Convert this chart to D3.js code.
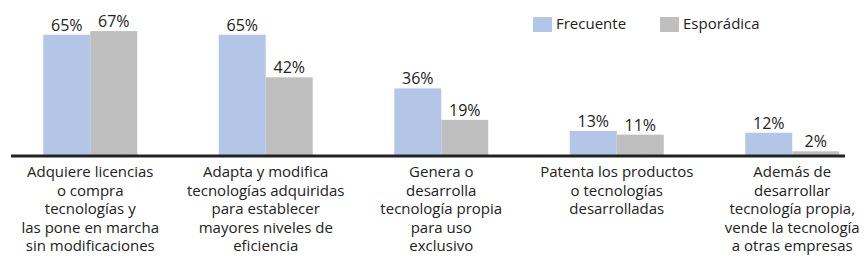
<!DOCTYPE html>
<html>
<head>
    <title>Tecnología</title>
    <style>
        body { margin: 0; background: #fff; }
        text { font-family: "Open Sans", "Noto Sans", sans-serif; fill: #222; }
    </style>
    <script src="https://cdn.jsdelivr.net/npm/d3@7/dist/d3.min.js"></script>
</head>
<body>
    <div id="chart"></div>
    <script>
        var categories = [
            ["Adquiere licencias", "o compra", "tecnologías y", "las pone en marcha", "sin modificaciones"],
            ["Adapta y modifica", "tecnologías adquiridas", "para establecer", "mayores niveles de", "eficiencia"],
            ["Genera o", "desarrolla", "tecnología propia", "para uso", "exclusivo"],
            ["Patenta los productos", "o tecnologías", "desarrolladas"],
            ["Además de", "desarrollar", "tecnología propia,", "vende la tecnología", "a otras empresas"]
        ];
        var frecuente = [65, 65, 36, 13, 12];
        var esporadica = [67, 42, 19, 11, 2];
        var seriesNames = ["Frecuente", "Esporádica"];
        var colors = ["#b4c6e7", "#bfbfbf"];

        var width = 866, height = 271;
        var baseline = 155;

        var svg = d3.select("#chart").append("svg")
            .attr("width", width)
            .attr("height", height);

        var x = d3.scaleBand()
            .domain(d3.range(categories.length))
            .range([2.5, 880]);

        var y = d3.scaleLinear()
            .domain([0, 100])
            .range([baseline, -30]);

        var barW = 47;
        var series = [frecuente, esporadica];

        series.forEach(function(values, s) {
            var g = svg.append("g");
            g.selectAll("rect")
                .data(values)
                .enter().append("rect")
                .attr("x", function(d, i) { return x(i) + x.bandwidth() / 2 - barW + s * barW; })
                .attr("width", barW)
                .attr("y", function(d) { return y(d); })
                .attr("height", function(d) { return baseline - y(d); })
                .attr("fill", colors[s]);

            g.selectAll("text")
                .data(values)
                .enter().append("text")
                .attr("x", function(d, i) { return x(i) + x.bandwidth() / 2 - barW / 2 + s * barW; })
                .attr("y", function(d) { return y(d) - 4; })
                .attr("text-anchor", "middle")
                .style("font-size", "16px")
                .text(function(d) { return d + "%"; });
        });

        // eje
        svg.append("line")
            .attr("x1", 11).attr("x2", 845)
            .attr("y1", baseline + 1).attr("y2", baseline + 1)
            .attr("stroke", "#222")
            .attr("stroke-width", 3);

        var labels = svg.append("g");
        categories.forEach(function(lines, i) {
            var t = labels.append("text")
                .attr("text-anchor", "middle")
                .style("font-size", "15px");
            t.selectAll("tspan")
                .data(lines)
                .enter().append("tspan")
                .attr("x", x(i) + x.bandwidth() / 2)
                .attr("y", function(d, j) { return 177 + j * 18.5; })
                .text(function(d) { return d; });
        });

        // leyenda
        var legendX = [533, 660];
        seriesNames.forEach(function(name, s) {
            svg.append("rect")
                .attr("x", legendX[s]).attr("y", 17)
                .attr("width", 19).attr("height", 15)
                .attr("fill", colors[s]);
            svg.append("text")
                .attr("x", legendX[s] + 23).attr("y", 29)
                .style("font-size", "15px")
                .text(name);
        });
    </script>
</body>
</html>
